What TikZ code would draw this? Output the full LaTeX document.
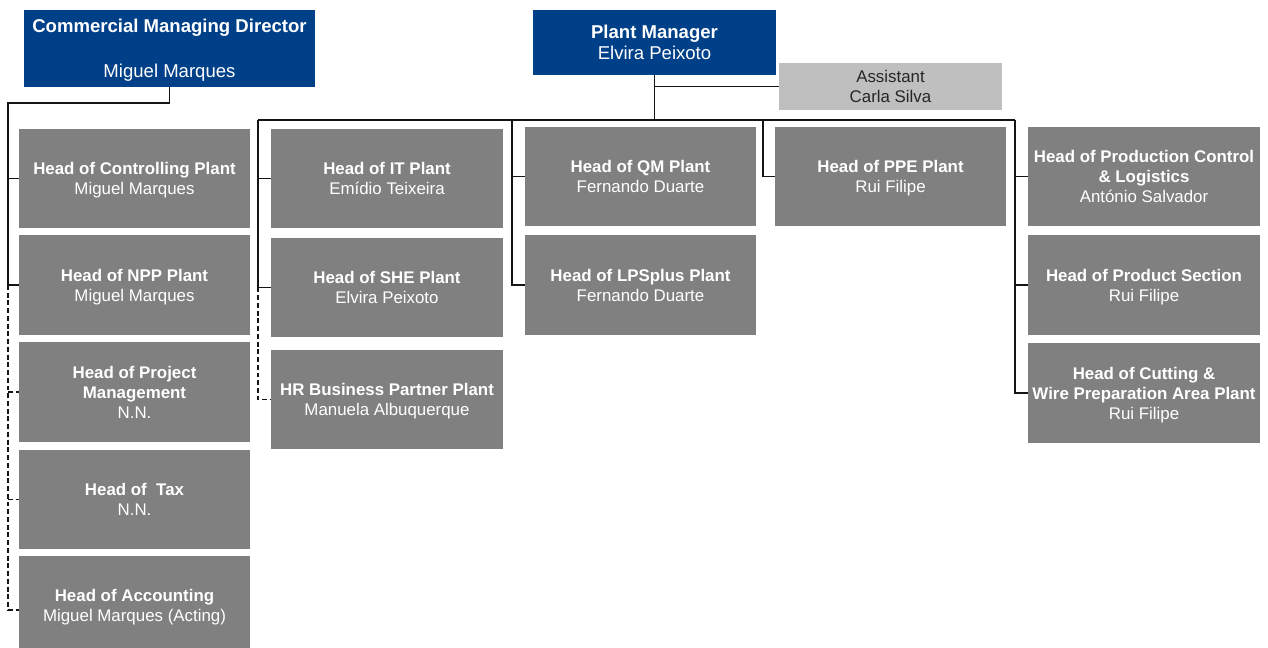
\documentclass[tikz,border=0pt]{standalone}
\usepackage{fontspec}
\setmainfont{Liberation Sans}
\usepackage{tikz}
\usetikzlibrary{positioning, calc}
\definecolor{headblue}{RGB}{0, 64, 136}
\definecolor{unitgray}{RGB}{128, 128, 128}
\definecolor{asstgray}{RGB}{191, 191, 191}
\definecolor{linegray}{RGB}{20, 20, 20}
\tikzset{
    headbox/.style={
        rectangle, fill=headblue, text=white, align=center, inner sep=1pt,
        font=\fontsize{13.2}{15}\selectfont, text depth=-2pt
    },
    unitbox/.style={
        rectangle, fill=unitgray, text=white, align=center, inner sep=1pt,
        minimum width=5.78cm, minimum height=2.48cm,
        font=\fontsize{12}{14.2}\selectfont, text depth=-1.8pt
    },
    asstbox/.style={
        rectangle, fill=asstgray, text=black!85, align=center, inner sep=1pt,
        minimum width=5.58cm, minimum height=1.15cm,
        font=\fontsize{12}{14.2}\selectfont, text depth=-1.4pt
    },
    orgline/.style={draw, line width=0.9pt, linegray},
    dashline/.style={draw, line width=0.9pt, linegray, dash pattern=on 3.5pt off 2pt}
}

\begin{document}
\begin{tikzpicture}[x=0.025cm, y=-0.025cm]
    \useasboundingbox (0,0) rectangle (1268,648);

    % ==========================================
    % top level
    % ==========================================
    \node[headbox, minimum width=7.28cm, minimum height=1.93cm] (cmd) at (169.5,48.5)
        {\textbf{Commercial Managing Director}\\[17pt]Miguel Marques};
    \node[headbox, minimum width=6.08cm, minimum height=1.63cm] (pm) at (654.5,42.5)
        {\textbf{Plant Manager}\\Elvira Peixoto};
    \node[asstbox] (asst) at (890.5,86.5) {Assistant\\Carla Silva};

    % ==========================================
    % commercial side
    % ==========================================
    \node[unitbox] (ctrl) at (134.5,178.5) {\textbf{Head of Controlling Plant}\\Miguel Marques};
    \node[unitbox] (npp)  at (134.5,285)   {\textbf{Head of NPP Plant}\\Miguel Marques};
    \node[unitbox] (proj) at (134.5,392)   {\textbf{Head of Project}\\\textbf{Management}\\N.N.};
    \node[unitbox] (tax)  at (134.5,499.5) {\textbf{Head of~ Tax}\\N.N.};
    \node[unitbox] (acct) at (134.5,605.5) {\textbf{Head of Accounting}\\Miguel Marques (Acting)};

    \coordinate (lrail) at (8,103);
    \draw[orgline] (cmd.south) |- (lrail) -- (lrail |- npp.west) -- (npp.west);
    \draw[orgline] (lrail |- ctrl.west) -- (ctrl.west);
    \draw[dashline] (lrail |- npp.west) -- (8,610) -- (acct.west |- 0,610);
    \draw[dashline] (lrail |- proj.west) -- (proj.west);
    \draw[dashline] (lrail |- tax.west) -- (tax.west);

    % ==========================================
    % plant side
    % ==========================================
    \node[unitbox] (it)   at (387,178.5) {\textbf{Head of IT Plant}\\Emídio Teixeira};
    \node[unitbox] (she)  at (387,287.5) {\textbf{Head of SHE Plant}\\Elvira Peixoto};
    \node[unitbox] (hr)   at (387,399.5) {\textbf{HR Business Partner Plant}\\Manuela Albuquerque};

    \node[unitbox] (qm)   at (640.5,176.5) {\textbf{Head of QM Plant}\\Fernando Duarte};
    \node[unitbox] (lps)  at (640.5,285)   {\textbf{Head of LPSplus Plant}\\Fernando Duarte};

    \node[unitbox] (ppe)  at (890.5,176.5) {\textbf{Head of PPE Plant}\\Rui Filipe};

    \node[unitbox] (pcl)  at (1144,176.5)
        {\textbf{Head of Production Control}\\\textbf{\& Logistics}\\António Salvador};
    \node[unitbox] (prod) at (1144,285)   {\textbf{Head of Product Section}\\Rui Filipe};
    \node[unitbox] (cut)  at (1144,393)
        {\textbf{Head of Cutting \&}\\\textbf{Wire Preparation Area Plant}\\Rui Filipe};

    % bus below the plant manager
    \coordinate (bus2) at (258,120);
    \coordinate (bus3) at (512,120);
    \coordinate (bus4) at (763,120);
    \coordinate (bus5) at (1015,120);
    \draw[orgline] (bus2) -- (bus5);
    \draw[orgline] (pm.south) -- (pm.south |- bus2);
    \draw[orgline] (pm.south |- asst.west) -- (asst.west);

    % column drops
    \draw[orgline] (bus2) -- (bus2 |- she.west) -- (she.west);
    \draw[orgline] (bus2 |- it.west) -- (it.west);
    \draw[dashline] (bus2 |- she.west) -- (bus2 |- hr.west) -- (hr.west);

    \draw[orgline] (bus3) -- (bus3 |- lps.west) -- (lps.west);
    \draw[orgline] (bus3 |- qm.west) -- (qm.west);

    \draw[orgline] (bus4) -- (bus4 |- ppe.west) -- (ppe.west);

    \draw[orgline] (bus5) -- (bus5 |- cut.west) -- (cut.west);
    \draw[orgline] (bus5 |- pcl.west) -- (pcl.west);
    \draw[orgline] (bus5 |- prod.west) -- (prod.west);

\end{tikzpicture}
\end{document}
